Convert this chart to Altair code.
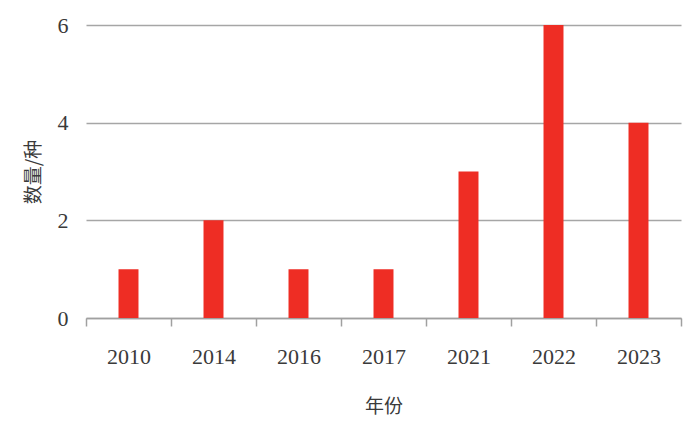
import altair as alt
import pandas as pd

years = ["2010", "2014", "2016", "2017", "2021", "2022", "2023"]
counts = [1, 2, 1, 1, 3, 6, 4]

df = pd.DataFrame({"年份": years, "数量": counts})

chart = alt.Chart(df).mark_bar(
    color="#ee2d24", width=alt.RelativeBandSize(0.235)
).encode(
    x=alt.X("年份:N", sort=years,
            scale=alt.Scale(paddingInner=0, paddingOuter=0),
            axis=alt.Axis(title="年份", labelAngle=0, tickBand="extent",
                          domainColor="#a0a0a0", domainWidth=1.5,
                          tickColor="#a0a0a0", tickWidth=1.5, tickSize=8,
                          labelFont="Liberation Serif", labelFontSize=22,
                          labelColor="#3a3a3a", labelPadding=20,
                          titleFont="Noto Sans CJK SC", titleFontSize=19,
                          titleFontWeight="normal", titleColor="#3a3a3a",
                          titlePadding=30)),
    y=alt.Y("数量:Q", scale=alt.Scale(domain=[0, 6]),
            axis=alt.Axis(title="数量/种", values=[0, 2, 4, 6], domain=False,
                          ticks=False, grid=True, gridColor="#a6a6a6",
                          gridWidth=1.5,
                          labelFont="Liberation Serif", labelFontSize=22,
                          labelColor="#3a3a3a", labelPadding=18,
                          titleFont="Noto Sans CJK SC", titleFontSize=19,
                          titleFontWeight="normal", titleColor="#3a3a3a",
                          titlePadding=14)),
).properties(
    width=595, height=293,
    autosize=alt.AutoSizeParams(type="none"),
    padding={"left": 78, "top": 17, "right": 10, "bottom": 110},
).configure_view(stroke=None)

chart.save("out.html", embed_options={"renderer": "svg", "actions": False})
